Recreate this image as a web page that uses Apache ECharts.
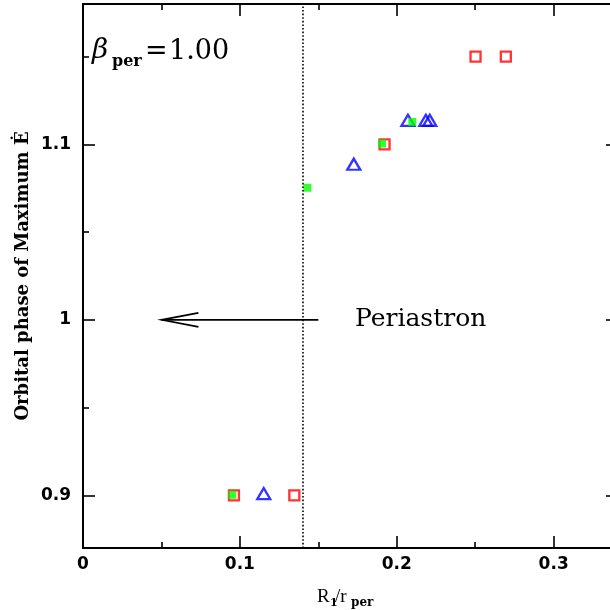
<!DOCTYPE html>
<html>
<head>
<meta charset="utf-8">
<script src="https://cdn.jsdelivr.net/npm/echarts@6/dist/echarts.min.js"></script>
<style>html,body{margin:0;padding:0;background:#fff;}#c{width:610px;height:610px;}</style>
</head>
<body>
<div id="c"></div>
<script>
// ---- data ----
const redX = [0.0962, 0.1347, 0.1922, 0.2502, 0.2695];
const redY = [0.900, 0.900, 1.100, 1.150, 1.150];
const blueX = [0.1152, 0.1726, 0.2071, 0.2185, 0.2210];
const blueY = [0.901, 1.0887, 1.1137, 1.1137, 1.1137];
const greenX = [0.0952, 0.1430, 0.1906, 0.2099];
const greenY = [0.9003, 1.0753, 1.1005, 1.1128];
const periastronX = 0.14;
const arrowFrom = [0.15, 1.0];
const arrowTo = [0.05, 1.0];
const xMajor = [0, 0.1, 0.2, 0.3];
const xMinor = [0.05, 0.15, 0.25];
const yMajor = [0.9, 1.0, 1.1];
const yMinor = [0.95, 1.05, 1.15];
const xRange = [0, 0.341];
const yRange = [0.87, 1.18];

const zip = (a, b) => a.map((v, i) => [v, b[i]]);
const labelFont = {fontFamily: 'DejaVu Sans', fontWeight: 'bold', fontSize: 17, color: '#000'};

function xAx(pos, ticks, len, line, label) {
  return {
    type: 'value', position: pos, min: xRange[0], max: xRange[1],
    axisLine: {show: line, onZero: false, lineStyle: {color: '#000', width: 2}},
    axisTick: {show: true, inside: true, length: len, customValues: ticks, lineStyle: {color: '#000', width: 1.6}},
    axisLabel: label ? Object.assign({show: true, margin: 8, customValues: ticks}, labelFont) : {show: false},
    splitLine: {show: false}
  };
}
function yAx(pos, ticks, len, line, label) {
  return {
    type: 'value', position: pos, min: yRange[0], max: yRange[1],
    axisLine: {show: line, onZero: false, lineStyle: {color: '#000', width: 2}},
    axisTick: {show: true, inside: true, length: len, customValues: ticks, lineStyle: {color: '#000', width: 1.6}},
    axisLabel: label ? Object.assign({show: true, margin: 12, customValues: ticks}, labelFont) : {show: false},
    splitLine: {show: false}
  };
}
function txt(x, y, text, font, align) {
  return {
    type: 'text', x: x, y: y,
    style: {text: text, font: font, fill: '#000',
            align: align || 'left', verticalAlign: 'middle',
            textAlign: align || 'left', textVerticalAlign: 'middle'}
  };
}

const chart = echarts.init(document.getElementById('c'), null, {renderer: 'canvas'});
chart.setOption({
  animation: false,
  backgroundColor: '#fff',
  grid: {left: 83, top: 4, width: 535, height: 544, containLabel: false, outerBoundsMode: 'none'},
  xAxis: [
    xAx('bottom', xMajor, 12, true, true),
    xAx('bottom', xMinor, 6, false, false),
    xAx('top', xMajor, 12, true, false),
    xAx('top', xMinor, 6, false, false)
  ],
  yAxis: [
    yAx('left', yMajor, 12, true, true),
    yAx('left', yMinor, 6, false, false),
    yAx('right', yMajor, 12, true, false),
    yAx('right', yMinor, 6, false, false)
  ],
  series: [
    {
      type: 'line', xAxisIndex: 0, yAxisIndex: 0, data: [], silent: true,
      markLine: {
        silent: true, symbol: ['none', 'none'], label: {show: false},
        lineStyle: {color: '#000', width: 1.6, type: [1.6, 2]},
        data: [{xAxis: periastronX}]
      }
    },
    {
      type: 'custom', xAxisIndex: 0, yAxisIndex: 0, silent: true,
      data: [[arrowFrom[0], arrowFrom[1], arrowTo[0], arrowTo[1]]],
      encode: {x: [0, 2], y: [1, 3]},
      renderItem: function (params, api) {
        const p0 = api.coord([api.value(0), api.value(1)]);
        const p1 = api.coord([api.value(2), api.value(3)]);
        const dx = p1[0] - p0[0], dy = p1[1] - p0[1];
        const L = Math.hypot(dx, dy), ux = dx / L, uy = dy / L;
        const hl = 37, hw = 7;
        const bx = p1[0] - ux * hl, by = p1[1] - uy * hl;
        return {
          type: 'group',
          children: [
            {type: 'line', shape: {x1: p0[0], y1: p0[1], x2: p1[0], y2: p1[1]}, style: {stroke: '#000', lineWidth: 1.6}},
            {type: 'polyline', shape: {points: [[bx - uy * hw, by + ux * hw], [p1[0], p1[1]], [bx + uy * hw, by - ux * hw]]},
             style: {stroke: '#000', lineWidth: 1.6, fill: null}}
          ]
        };
      }
    },
    {
      type: 'scatter', xAxisIndex: 0, yAxisIndex: 0, data: zip(redX, redY),
      symbol: 'rect', symbolSize: 10,
      itemStyle: {color: 'rgba(0,0,0,0)', borderColor: '#ff0000', borderWidth: 2.3}
    },
    {
      type: 'scatter', xAxisIndex: 0, yAxisIndex: 0, data: zip(blueX, blueY),
      symbol: 'triangle', symbolSize: [13, 11],
      itemStyle: {color: 'rgba(0,0,0,0)', borderColor: '#0000ff', borderWidth: 2.3}
    },
    {
      type: 'scatter', xAxisIndex: 0, yAxisIndex: 0, data: zip(greenX, greenY),
      symbol: 'rect', symbolSize: 8,
      itemStyle: {color: '#00ff00'}
    }
  ],
  graphic: [
    txt(92, 51, 'β', 'italic 28px "DejaVu Serif"'),
    txt(112, 62, 'per', 'bold 16px "DejaVu Serif"'),
    txt(145, 52, '=', '27px "DejaVu Serif"'),
    txt(169, 52, '1.00', '27px "DejaVu Serif"'),
    txt(355, 319, 'Periastron', '25px "DejaVu Serif"'),
    txt(317, 597, 'R', '19px "Liberation Serif"'),
    txt(330, 603, '1', 'bold 11px "DejaVu Serif"'),
    txt(335, 597, '/r', '19px "Liberation Serif"'),
    txt(351, 603, 'per', 'bold 12px "DejaVu Serif"'),
    {
      type: 'text', x: 23, y: 276, rotation: Math.PI / 2,
      style: {text: 'Orbital phase of Maximum Ė', font: 'bold 18px "DejaVu Serif"', fill: '#000',
              align: 'center', verticalAlign: 'middle', textAlign: 'center', textVerticalAlign: 'middle'}
    }
  ]
});
</script>
</body>
</html>
